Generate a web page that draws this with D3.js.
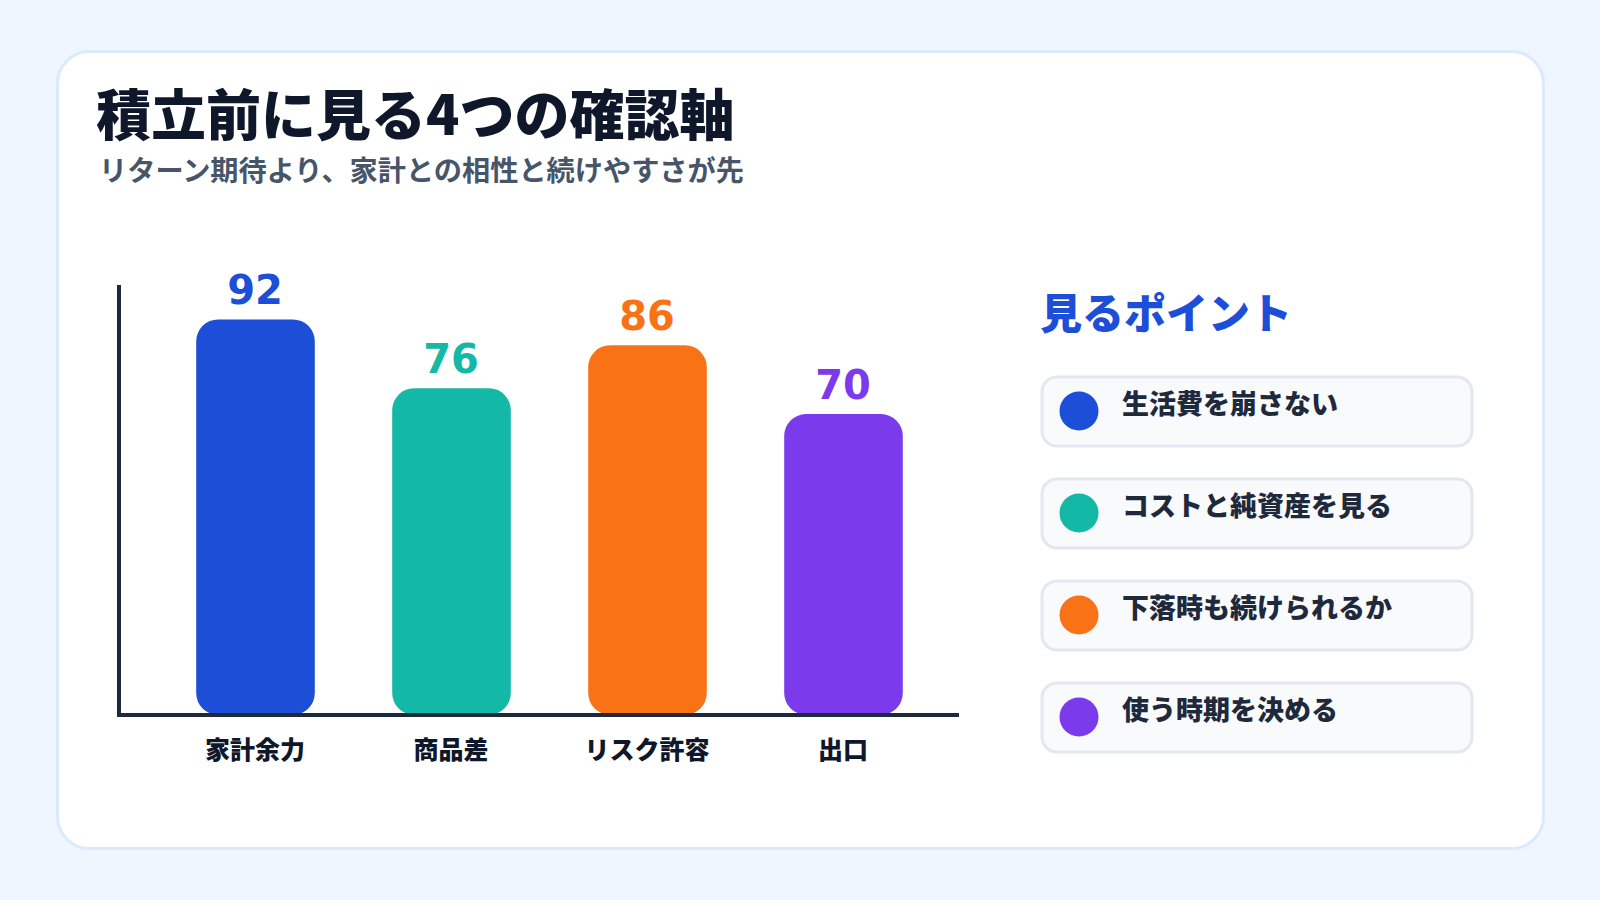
<!DOCTYPE html>
<html>
<head>
<meta charset="utf-8">
<script src="https://cdn.jsdelivr.net/npm/d3@7"></script>
<style>
  html, body { margin: 0; padding: 0; background: #eff6ff; }
  svg { display: block; }
</style>
</head>
<body>
<div id="chart"></div>
<script>
const categories = ["家計余力", "商品差", "リスク許容", "出口"];
const scores = [92, 76, 86, 70];
const barColors = ["#1d4ed8", "#14b8a6", "#f97316", "#7c3aed"];
const points = ["生活費を崩さない", "コストと純資産を見る", "下落時も続けられるか", "使う時期を決める"];

const W = 1600, H = 900;
const jp = "'Noto Sans CJK JP', 'Noto Sans', sans-serif";

const svg = d3.select("#chart").append("svg")
  .attr("width", W)
  .attr("height", H);

svg.append("rect").attr("width", W).attr("height", H).attr("fill", "#eff6ff");

// card
svg.append("rect")
  .attr("x", 57.5).attr("y", 51.5)
  .attr("width", 1486).attr("height", 797)
  .attr("rx", 32)
  .attr("fill", "#ffffff")
  .attr("stroke", "#dbeafe")
  .attr("stroke-width", 3);

svg.append("text")
  .attr("x", 96).attr("y", 135)
  .attr("font-family", jp).attr("font-weight", 900).attr("font-size", 55)
  .attr("fill", "#0f172a")
  .text("積立前に見る4つの確認軸");

svg.append("text")
  .attr("x", 99).attr("y", 181)
  .attr("font-family", jp).attr("font-weight", 700).attr("font-size", 28.2)
  .attr("fill", "#475569")
  .text("リターン期待より、家計との相性と続けやすさが先");

// bars
const x = d3.scaleBand()
  .domain(categories)
  .range([157, 941])
  .paddingInner(0.4)
  .paddingOuter(0.2);

const y = d3.scaleLinear()
  .domain([0, 100])
  .range([715, 285]);

const g = svg.append("g");

g.selectAll("rect.bar")
  .data(categories)
  .enter().append("rect")
  .attr("class", "bar")
  .attr("x", d => x(d))
  .attr("y", (d, i) => y(scores[i]))
  .attr("width", x.bandwidth() + 1)
  .attr("height", (d, i) => y(0) - y(scores[i]))
  .attr("rx", 22)
  .attr("fill", (d, i) => barColors[i]);

g.selectAll("text.val")
  .data(categories)
  .enter().append("text")
  .attr("class", "val")
  .attr("x", d => x(d) + x.bandwidth() / 2)
  .attr("y", (d, i) => y(scores[i]) - 15)
  .attr("text-anchor", "middle")
  .attr("font-family", "'DejaVu Sans', sans-serif")
  .attr("font-weight", 700)
  .attr("font-size", 40)
  .attr("fill", (d, i) => barColors[i])
  .text((d, i) => scores[i]);

g.selectAll("text.cat")
  .data(categories)
  .enter().append("text")
  .attr("class", "cat")
  .attr("x", d => x(d) + x.bandwidth() / 2)
  .attr("y", 759)
  .attr("text-anchor", "middle")
  .attr("font-family", jp)
  .attr("font-weight", 900)
  .attr("font-size", 25)
  .attr("fill", "#0f172a")
  .text(d => d);

// axes
g.append("path")
  .attr("d", `M119,${y(100)}V${y(0)}H959`)
  .attr("fill", "none")
  .attr("stroke", "#1e293b")
  .attr("stroke-width", 4);

// right panel
svg.append("text")
  .attr("x", 1040).attr("y", 329)
  .attr("font-family", jp).attr("font-weight", 900).attr("font-size", 42)
  .attr("fill", "#1d4ed8")
  .text("見るポイント");

const items = svg.selectAll("g.item")
  .data(points)
  .enter().append("g")
  .attr("class", "item")
  .attr("transform", (d, i) => `translate(1042,${377 + i * 102})`);

items.append("rect")
  .attr("width", 430).attr("height", 69)
  .attr("rx", 15)
  .attr("fill", "#f8fafc")
  .attr("stroke", "#e2e8f0")
  .attr("stroke-width", 3);

items.append("circle")
  .attr("cx", 37).attr("cy", 34)
  .attr("r", 19.5)
  .attr("fill", (d, i) => barColors[i]);

items.append("text")
  .attr("x", 80).attr("y", 37)
  .attr("font-family", jp).attr("font-weight", 900).attr("font-size", 27)
  .attr("fill", "#1e293b")
  .text(d => d);
</script>
</body>
</html>
